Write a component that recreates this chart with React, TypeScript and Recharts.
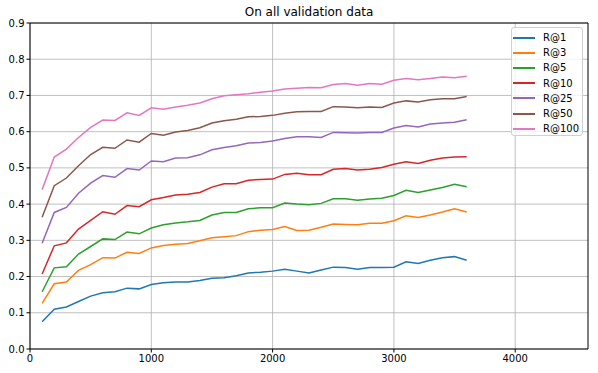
import React from 'react';
import { LineChart, Line, XAxis, YAxis, CartesianGrid, ReferenceLine } from 'recharts';

const steps = [100,200,300,400,500,600,700,800,900,1000,1100,1200,1300,1400,1500,1600,1700,1800,1900,2000,2100,2200,2300,2400,2500,2600,2700,2800,2900,3000,3100,3200,3300,3400,3500,3600];

const r1 = [0.075,0.110,0.116,0.131,0.146,0.155,0.158,0.168,0.166,0.178,0.183,0.185,0.185,0.189,0.195,0.197,0.202,0.210,0.212,0.215,0.220,0.215,0.210,0.218,0.226,0.225,0.220,0.225,0.225,0.226,0.241,0.236,0.245,0.252,0.255,0.245];
const r3 = [0.126,0.180,0.185,0.217,0.233,0.252,0.251,0.267,0.264,0.279,0.286,0.289,0.291,0.299,0.307,0.310,0.313,0.324,0.328,0.330,0.338,0.327,0.328,0.336,0.345,0.344,0.343,0.347,0.347,0.354,0.368,0.363,0.370,0.378,0.387,0.378];
const r5 = [0.158,0.224,0.227,0.262,0.283,0.304,0.302,0.323,0.318,0.334,0.343,0.348,0.351,0.355,0.370,0.377,0.377,0.387,0.390,0.390,0.403,0.400,0.398,0.402,0.415,0.415,0.411,0.414,0.416,0.424,0.438,0.432,0.439,0.446,0.455,0.448];
const r10 = [0.207,0.285,0.293,0.331,0.355,0.379,0.372,0.396,0.393,0.412,0.418,0.425,0.427,0.432,0.447,0.456,0.456,0.466,0.468,0.469,0.482,0.485,0.481,0.481,0.496,0.498,0.494,0.496,0.501,0.510,0.517,0.512,0.521,0.527,0.530,0.531];
const r25 = [0.292,0.377,0.391,0.430,0.458,0.479,0.474,0.498,0.494,0.519,0.517,0.527,0.528,0.536,0.550,0.556,0.561,0.569,0.570,0.574,0.581,0.586,0.586,0.584,0.598,0.597,0.596,0.598,0.598,0.610,0.617,0.613,0.621,0.624,0.626,0.633];
const r50 = [0.364,0.451,0.472,0.506,0.537,0.557,0.554,0.577,0.571,0.595,0.590,0.599,0.603,0.611,0.624,0.630,0.634,0.641,0.642,0.645,0.651,0.655,0.656,0.656,0.669,0.668,0.666,0.668,0.667,0.679,0.685,0.682,0.688,0.691,0.691,0.697];
const r100 = [0.440,0.530,0.552,0.584,0.612,0.632,0.631,0.652,0.645,0.666,0.662,0.668,0.673,0.679,0.691,0.699,0.702,0.705,0.709,0.712,0.718,0.720,0.722,0.721,0.730,0.733,0.728,0.733,0.731,0.742,0.747,0.743,0.747,0.751,0.749,0.753];

const seriesNames = ['R@1','R@3','R@5','R@10','R@25','R@50','R@100'];
const seriesValues = [r1, r3, r5, r10, r25, r50, r100];
const colors = ['#1f77b4','#ff7f0e','#2ca02c','#d62728','#9467bd','#8c564b','#e377c2'];

const xTicks = [0,1000,2000,3000,4000];
const yTicks = [0,0.1,0.2,0.3,0.4,0.5,0.6,0.7,0.8,0.9];

const data = steps.map((s, i) => {
  const row: Record<string, number> = { step: s };
  seriesNames.forEach((n, k) => { row[n] = seriesValues[k][i]; });
  return row;
});

const FONT = '"DejaVu Sans", sans-serif';

const LegendBox = () => (
  <div style={{
    position: 'absolute', left: 511, top: 27, boxSizing: 'border-box', width: 72, height: 109,
    background: 'rgba(255,255,255,0.8)', border: '1px solid #d0d0d0', borderRadius: 3,
    padding: '2px 0 0 1px', fontFamily: FONT, fontSize: 10, color: '#000', whiteSpace: 'nowrap',
  }}>
    {seriesNames.map((n, i) => (
      <div key={n} style={{ display: 'flex', alignItems: 'center', height: 15.2 }}>
        <div style={{ width: 22, height: 2, background: colors[i], marginRight: 8 }} />
        <span>{n}</span>
      </div>
    ))}
  </div>
);

export default function App() {
  return (
    <div style={{ position: 'absolute', left: 0, top: 0, width: 598, height: 373, background: '#fff' }}>
      <div style={{ position: 'absolute', left: 0, width: 618, top: 5, textAlign: 'center', fontFamily: FONT, fontSize: 12, color: '#000', lineHeight: '14px' }}>
        On all validation data
      </div>
      <LineChart width={598} height={373} data={data} margin={{ top: 23, right: 10, left: 0, bottom: 0 }}>
        <CartesianGrid stroke="#b0b0b0" strokeWidth={0.8} horizontalValues={yTicks} verticalValues={xTicks} />
        <XAxis dataKey="step" type="number" domain={[0, 4600]} ticks={xTicks} height={24}
          stroke="#000" tickSize={3.5} tick={{ fill: '#000', fontSize: 10, fontFamily: FONT }}
          allowDataOverflow interval={0} />
        <YAxis type="number" domain={[0, 0.9]} ticks={yTicks} width={30}
          stroke="#000" tickSize={3.5} tick={{ fill: '#000', fontSize: 10, fontFamily: FONT }}
          tickFormatter={(v: number) => v.toFixed(1)} allowDataOverflow interval={0} />
        <ReferenceLine y={0.9} stroke="#000" strokeWidth={1} />
        <ReferenceLine x={4600} stroke="#000" strokeWidth={1} />
        {seriesNames.map((n, i) => (
          <Line key={n} type="linear" dataKey={n} stroke={colors[i]} strokeWidth={1.5} dot={false} isAnimationActive={false} />
        ))}
      </LineChart>
      <LegendBox />
    </div>
  );
}
